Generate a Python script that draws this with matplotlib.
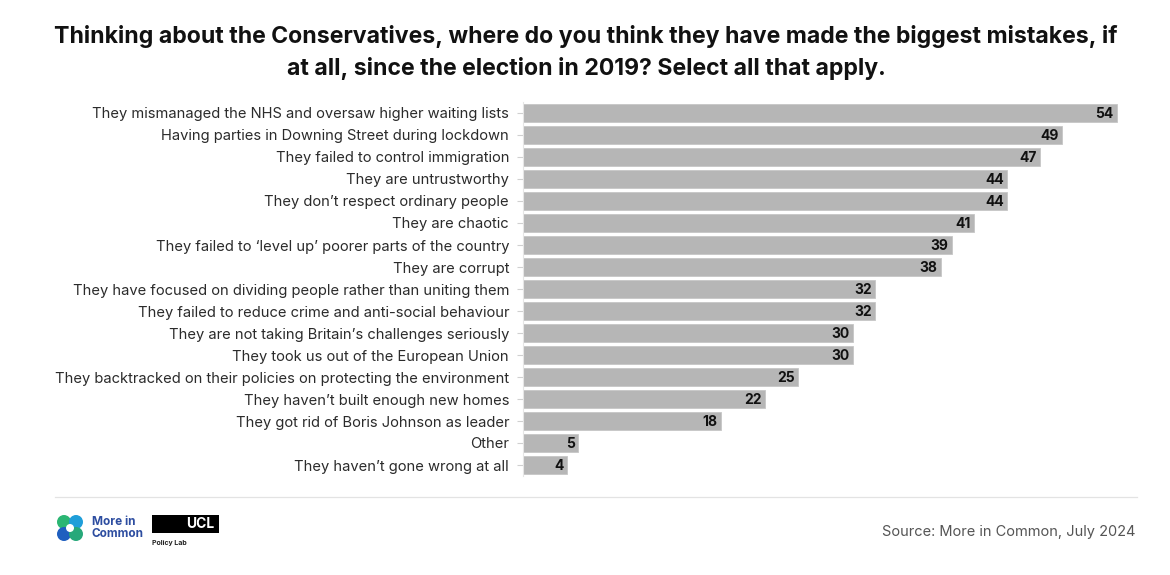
import matplotlib
matplotlib.use("Agg")
import matplotlib.pyplot as plt
from matplotlib.patches import Circle, Rectangle

categories = [
    "They mismanaged the NHS and oversaw higher waiting lists",
    "Having parties in Downing Street during lockdown",
    "They failed to control immigration",
    "They are untrustworthy",
    "They don\u2019t respect ordinary people",
    "They are chaotic",
    "They failed to \u2018level up\u2019 poorer parts of the country",
    "They are corrupt",
    "They have focused on dividing people rather than uniting them",
    "They failed to reduce crime and anti-social behaviour",
    "They are not taking Britain\u2019s challenges seriously",
    "They took us out of the European Union",
    "They backtracked on their policies on protecting the environment",
    "They haven\u2019t built enough new homes",
    "They got rid of Boris Johnson as leader",
    "Other",
    "They haven\u2019t gone wrong at all",
]
values = [54, 49, 47, 44, 44, 41, 39, 38, 32, 32, 30, 30, 25, 22, 18, 5, 4]

title = ("Thinking about the Conservatives, where do you think they have made the biggest mistakes, if\n"
         "at all, since the election in 2019? Select all that apply.")
source = "Source: More in Common, July 2024"

plt.rcParams['font.family'] = ['Inter', 'DejaVu Sans']

W, H = 1170, 575
fig = plt.figure(figsize=(W / 100, H / 100), dpi=100)
fig.patch.set_facecolor("white")

ax = fig.add_axes([523 / W, 1 - 476 / H, (1139 - 523) / W, (476 - 102) / H])
y = list(range(len(categories)))
ax.barh(y, values, height=0.78, color="#b6b6b6", edgecolor="#c6c6c6", linewidth=0.6)
ax.set_xlim(0, 56)
ax.set_ylim(len(categories) - 0.5, -0.5)
ax.set_yticks(y)
ax.set_yticklabels(categories, fontsize=10.6, color="#2b2b2b")
ax.tick_params(axis="y", length=4, width=0.8, color="#d0d0d0", pad=6)
ax.set_xticks([])
for s in ["top", "right", "bottom"]:
    ax.spines[s].set_visible(False)
ax.spines["left"].set_color("#e6e6e6")
ax.spines["left"].set_linewidth(0.8)

for yi, v in zip(y, values):
    ax.text(v - 0.3, yi, str(v), ha="right", va="center_baseline", fontsize=10,
            fontweight="bold", color="#111111")

fig.text(586 / W, 1 - 53 / H, title, ha="center", va="center", fontsize=16.6,
         fontweight="bold", color="#111111", linespacing=1.5)

# separator line
fig.add_artist(plt.Line2D([55 / W, 1137 / W], [1 - 497 / H, 1 - 497 / H],
                          color="#e3e3e3", linewidth=0.9))

fig.text(1135 / W, 1 - 532 / H, source, ha="right", va="center", fontsize=10.5,
         color="#555555")

# logos (approximations)
lax = fig.add_axes([0, 0, 1, 1], zorder=-1)
lax.set_xlim(0, W)
lax.set_ylim(H, 0)
lax.axis("off")
for (cx, cy, c) in [(64, 522, "#2bb673"), (76, 522, "#1f9ed9"), (64, 534, "#1f5fbf"), (76, 534, "#27a87a")]:
    lax.add_patch(Circle((cx, cy), 7, color=c, lw=0))
lax.add_patch(Circle((70, 528), 4, color="white", lw=0))
lax.text(92, 528, "More in\nCommon", fontsize=8.5, fontweight="bold", color="#2d4da0",
         va="center", ha="left", linespacing=1.0)
lax.add_patch(Rectangle((152, 515), 67, 18, color="black", lw=0))
lax.text(214, 524, "UCL", fontsize=10, fontweight="bold", color="white", va="center", ha="right")
lax.text(152, 543, "Policy Lab", fontsize=5, fontweight="bold", color="#222222", va="center", ha="left")

fig.savefig("out.png", dpi=100, facecolor="white")
